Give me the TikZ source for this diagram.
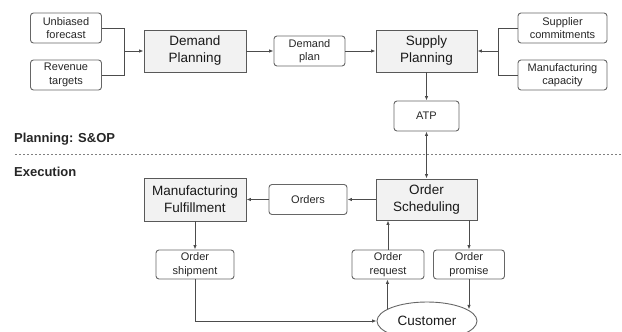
\documentclass[tikz,border=0pt]{standalone}
\usepackage{fontspec}
\setmainfont{Liberation Sans}
\usetikzlibrary{positioning,shapes.geometric,arrows.meta}

\begin{document}
\begin{tikzpicture}[x=1pt, y=-1pt, >={Latex[length=4.5pt,width=3.5pt]},
    every node/.style={align=center, inner sep=1pt},
    info/.style={draw=black!60, rounded corners=3pt, line width=0.9pt, minimum height=30pt, text=black!85, font=\fontsize{11}{13.5}\selectfont},
    task/.style={draw=black!65, fill=black!5, line width=0.9pt, minimum width=102pt, minimum height=42pt, text=black!90, font=\fontsize{13.5}{17}\selectfont},
    flow/.style={draw=black!70, line width=0.9pt},
    heading/.style={anchor=west, font=\bfseries\fontsize{13}{15}\selectfont, text=black!85}]
    \useasboundingbox (0,0) rectangle (622,332);

    % Planning
    \node[info, minimum width=71pt] (forecast) at (66,28) {Unbiased\\forecast};
    \node[info, minimum width=71pt] (revenue) at (66,75) {Revenue\\targets};
    \node[task] (demand) at (195,51) {Demand\\Planning};
    \node[info, minimum width=71pt] (dplan) at (309.5,51) {Demand\\plan};
    \node[task, minimum width=101pt] (supply) at (426.5,51) {Supply\\Planning};
    \node[info, minimum width=89pt] (supplier) at (562.5,28) {Supplier\\commitments};
    \node[info, minimum width=89pt] (capacity) at (562.5,75) {Manufacturing\\capacity};
    \node[info, minimum width=65pt] (atp) at (426.5,116) {ATP};

    % Split
    \node[heading] (plan) at (13,139) {Planning: S\&OP};
    \node[heading] (exec) at (13,172) {Execution};
    \coordinate (split-l) at (15,154);
    \coordinate (split-r) at (622,154);
    \draw[black!50, line width=0.7pt, dash pattern=on 2pt off 2pt] (split-l) -- (split-r);

    % Execution
    \node[task, minimum width=101pt, minimum height=41pt] (sched) at (426.5,199.5) {Order\\Scheduling};
    \node[info, minimum width=78pt] (orders) at (308,199.5) {Orders};
    \node[task, minimum height=43pt] (mfg) at (195,199.5) {Manufacturing\\Fulfillment};
    \node[info, minimum width=78pt, minimum height=29pt] (shipment) at (195,264.5) {Order\\shipment};
    \node[info, minimum width=72pt, minimum height=29pt] (request) at (388,264.5) {Order\\request};
    \node[info, minimum width=71pt, minimum height=29pt] (promise) at (469,264.5) {Order\\promise};
    \node[ellipse, draw=black!60, line width=0.9pt, minimum width=100pt, minimum height=38pt, text=black!90, font=\fontsize{13.5}{15}\selectfont] (customer) at (427,321) {Customer};

    % Arrows
    \coordinate (in-l) at (124,51);
    \draw[flow] (forecast.east) -| (in-l);
    \draw[flow] (revenue.east) -| (in-l);
    \draw[flow, ->] (in-l) -- (demand.west);
    \draw[flow, ->] (demand) -- (dplan);
    \draw[flow, ->] (dplan) -- (supply);
    \coordinate (in-r) at (498,51);
    \draw[flow] (supplier.west) -| (in-r);
    \draw[flow] (capacity.west) -| (in-r);
    \draw[flow, ->] (in-r) -- (supply.east);
    \draw[flow, ->] (supply) -- (atp);
    \draw[flow, <->] (atp) -- (sched);
    \draw[flow, ->] (sched) -- (orders);
    \draw[flow, ->] (orders) -- (mfg);
    \draw[flow, ->] (mfg) -- (shipment);
    \draw[flow, ->] (shipment.south) |- (customer.west);
    \draw[flow, ->] (customer.163) -- (customer.163 |- request.south);
    \draw[flow, ->] (request.north) -- (request.north |- sched.south);
    \draw[flow, ->] (sched.south -| promise) -- (promise.north);
    \draw[flow, ->] (promise.south) -- (promise.south |- customer.16);
\end{tikzpicture}
\end{document}
